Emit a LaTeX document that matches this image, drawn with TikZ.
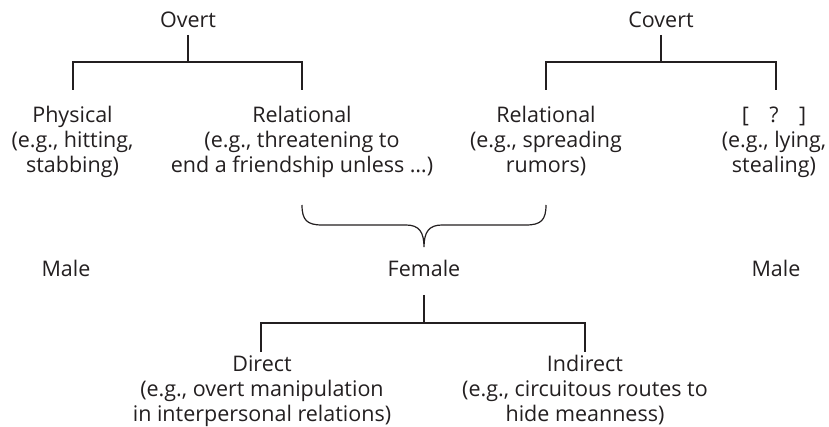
\documentclass[tikz,border=0pt]{standalone}
\usepackage{fontspec}
\setmainfont{Open Sans}
\begin{document}
\begin{tikzpicture}[x=1pt,y=-1pt,
  lbl/.style={inner sep=0pt, align=center, text=txt, font=\fontsize{21.5}{25}\selectfont, anchor=base},
  conn/.style={line width=1.3pt, draw=lin}]
\definecolor{txt}{HTML}{231F20}
\definecolor{lin}{HTML}{231F20}
\useasboundingbox (0,0) rectangle (829,427);
% labels (base anchor = baseline of the last line)
\node[lbl] (ov) at (188,28) {Overt};
\node[lbl] (cv) at (661,28) {Covert};
\node[lbl] (phys) at (72.5,173) {Physical\\(e.g., hitting,\\stabbing)};
\node[lbl] (rel1) at (302,173) {Relational\\(e.g., threatening to\\end a friendship unless …)};
\node[lbl] (rel2) at (546,173) {Relational\\(e.g., spreading\\rumors)};
\node[lbl] (unk) at (774,173) {[\hspace{0.95em}?\hspace{0.95em}]\\(e.g., lying,\\stealing)};
\node[lbl] (male1) at (66,277) {Male};
\node[lbl] (fem) at (424,277) {Female};
\node[lbl] (male2) at (776,277) {Male};
\node[lbl] (dir) at (262,421) {Direct\\(e.g., overt manipulation\\in interpersonal relations)};
\node[lbl] (ind) at (585,421) {Indirect\\(e.g., circuitous routes to\\hide meanness)};
% junction and leg-end coordinates
\coordinate (ovt) at (188,35);  \coordinate (ovj) at (188,62);
\coordinate (physt) at (73,90);  \coordinate (rel1t) at (302,90);
\coordinate (cvt) at (661,35);  \coordinate (cvj) at (661,62);
\coordinate (rel2t) at (546,90); \coordinate (unkt) at (776,90);
\coordinate (femt) at (424,295); \coordinate (femj) at (424,323);
\coordinate (dirt) at (261,352); \coordinate (indt) at (585,352);
% trees
\draw[conn] (ovt) -- (ovj);
\draw[conn] (physt) |- (ovj) -| (rel1t);
\draw[conn] (cvt) -- (cvj);
\draw[conn] (rel2t) |- (cvj) -| (unkt);
\draw[conn] (femt) -- (femj);
\draw[conn] (dirt) |- (femj) -| (indt);
% brace
\coordinate (bl) at (302,205);
\coordinate (br) at (546,205);
\coordinate (btip) at (424,247);
\draw[conn, line width=1.2pt] (bl) .. controls (302,220) and (307,225) .. (322,225)
  -- (406,225) .. controls (419,225) and (424,232) .. (btip)
  .. controls (424,232) and (429,225) .. (442,225)
  -- (526,225) .. controls (541,225) and (546,220) .. (br);
\end{tikzpicture}
\end{document}
